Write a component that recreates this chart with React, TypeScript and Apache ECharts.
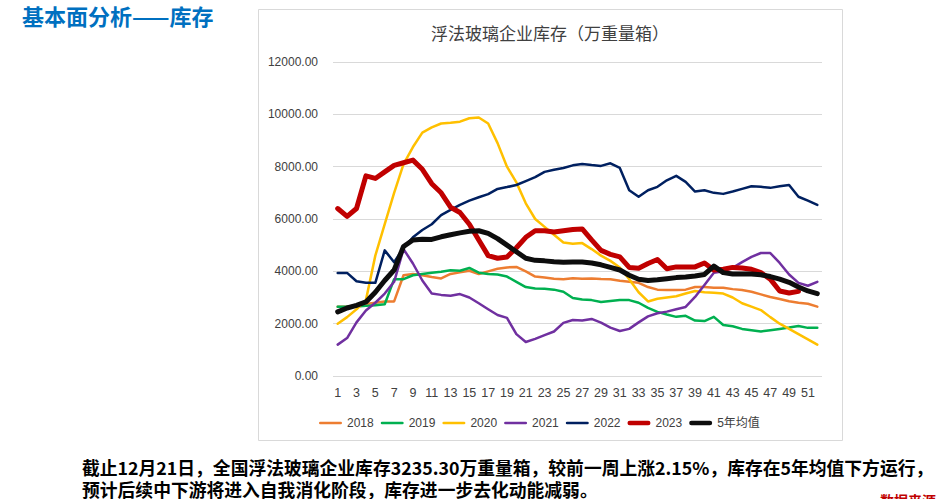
import React, { useEffect, useRef } from "react";
import * as echarts from "echarts";

const weeks: string[] = Array.from({ length: 52 }, (_, i) => String(i + 1));

const yTicks = [0, 2000, 4000, 6000, 8000, 10000, 12000];

const s2018 = [2650, 2650, 2700, 2750, 2800, 2850, 2850, 3850, 3900, 3850, 3780, 3730, 3900, 3960, 4020, 3900, 4000, 4100, 4150, 4170, 4000, 3800, 3760, 3720, 3700, 3740, 3720, 3730, 3710, 3700, 3640, 3600, 3560, 3400, 3300, 3290, 3290, 3300, 3400, 3400, 3370, 3370, 3320, 3290, 3220, 3120, 3020, 2940, 2860, 2800, 2760, 2650];
const s2019 = [2650, 2650, 2660, 2680, 2700, 2740, 3700, 3700, 3850, 3900, 3950, 3980, 4040, 4020, 4130, 3950, 3900, 3880, 3800, 3600, 3400, 3340, 3330, 3300, 3220, 2980, 2920, 2900, 2830, 2870, 2900, 2900, 2800, 2600, 2450, 2350, 2260, 2300, 2120, 2100, 2260, 1950, 1900, 1800, 1750, 1700, 1750, 1800, 1850, 1910, 1840, 1840];
const s2020 = [2000, 2250, 2550, 2900, 4600, 5800, 7000, 8100, 8750, 9300, 9500, 9650, 9680, 9720, 9850, 9880, 9650, 8900, 8000, 7400, 6600, 6000, 5700, 5400, 5100, 5050, 5080, 4850, 4600, 4400, 4150, 3700, 3200, 2850, 2950, 3000, 3050, 3150, 3250, 3200, 3180, 3150, 3000, 2780, 2650, 2520, 2250, 2000, 1800, 1600, 1400, 1200];
const s2021 = [1200, 1450, 2050, 2500, 2800, 3150, 3600, 4850, 4300, 3650, 3150, 3100, 3070, 3130, 3000, 2780, 2550, 2330, 2220, 1600, 1300, 1420, 1560, 1700, 2030, 2140, 2120, 2180, 2040, 1850, 1720, 1800, 2050, 2280, 2400, 2460, 2550, 2640, 3020, 3480, 3950, 4000, 4130, 4350, 4550, 4700, 4700, 4320, 3880, 3560, 3450, 3600];
const s2022 = [3940, 3940, 3620, 3560, 3560, 4800, 4350, 4900, 5300, 5580, 5800, 6150, 6350, 6540, 6700, 6830, 6950, 7150, 7220, 7300, 7450, 7600, 7800, 7880, 7950, 8050, 8100, 8060, 8030, 8130, 7950, 7100, 6850, 7100, 7230, 7480, 7650, 7420, 7050, 7100, 7000, 6960, 7050, 7150, 7250, 7230, 7190, 7250, 7300, 6850, 6700, 6540];
const s2023 = [6400, 6100, 6400, 7650, 7550, 7800, 8050, 8150, 8250, 7900, 7350, 7000, 6450, 6250, 5800, 5200, 4600, 4500, 4550, 4900, 5300, 5550, 5550, 5500, 5550, 5600, 5620, 5200, 4800, 4650, 4550, 4150, 4120, 4300, 4450, 4100, 4170, 4170, 4170, 4320, 4050, 4080, 4150, 4130, 4080, 3950, 3700, 3250, 3170, 3235.3];
const sAvg = [2450, 2600, 2700, 2830, 3200, 3650, 4050, 4950, 5200, 5230, 5220, 5320, 5400, 5470, 5530, 5550, 5450, 5250, 5000, 4750, 4500, 4420, 4400, 4370, 4350, 4360, 4360, 4320, 4250, 4150, 4050, 3850, 3700, 3650, 3680, 3720, 3760, 3780, 3820, 3880, 4200, 3950, 3900, 3900, 3900, 3870, 3800, 3700, 3580, 3400, 3250, 3150];

const seriesNames = ["2018", "2019", "2020", "2021", "2022", "2023", "5年均值"];
const seriesData = [s2018, s2019, s2020, s2021, s2022, s2023, sAvg];
const seriesColors = ["#ED7D31", "#00B050", "#FFC000", "#7030A0", "#002060", "#C00000", "#0D0D0D"];
const seriesWidths = [2.5, 2.5, 2.5, 2.5, 2.5, 5, 5];

const pageTitle = "基本面分析——库存";
const chartTitle = "浮法玻璃企业库存（万重量箱）";
const noteLine1 = "截止12月21日，全国浮法玻璃企业库存3235.30万重量箱，较前一周上涨2.15%，库存在5年均值下方运行，";
const noteLine2 = "预计后续中下游将进入自我消化阶段，库存进一步去化动能减弱。";
const sourceText = "数据来源";

const thinIcon = "path://M0,0L0.01,0Z M1,3.5H24A1.5,1.5,0,0,1,24,6.5H1A1.5,1.5,0,0,1,1,3.5Z M0,10L0.01,10Z";
const thickIcon = "path://M0,0L0.01,0Z M2,2.5H23A2.5,2.5,0,0,1,23,7.5H2A2.5,2.5,0,0,1,2,2.5Z M0,10L0.01,10Z";

export default function App() {
  const ref = useRef<HTMLDivElement>(null);
  useEffect(() => {
    if (!ref.current) return;
    const chart = echarts.init(ref.current, null, { renderer: "svg" });
    const cjk = "'Noto Sans CJK SC', 'Liberation Sans', sans-serif";
    const latin = "'Liberation Sans', 'Noto Sans CJK SC', sans-serif";
    chart.setOption({
      animation: false,
      backgroundColor: "#ffffff",
      graphic: [
        {
          type: "rect",
          z: -10,
          shape: { x: 258.5, y: 9.5, width: 584, height: 431 },
          style: { fill: "#ffffff", stroke: "#d9d9d9", lineWidth: 1 },
        },
        {
          type: "text",
          left: 22,
          top: 3,
          style: { text: pageTitle, fill: "#0070C0", font: `bold 22px ${cjk}`, lineHeight: 24 },
        },
        {
          type: "text",
          left: 82,
          top: 456,
          style: { text: noteLine1, fill: "#000000", font: `bold 17.8px ${cjk}`, lineHeight: 21 },
        },
        {
          type: "text",
          left: 82,
          top: 478,
          style: { text: noteLine2, fill: "#000000", font: `bold 17.8px ${cjk}`, lineHeight: 21 },
        },
        {
          type: "text",
          left: 880,
          top: 493,
          style: { text: sourceText, fill: "#C00000", font: `bold 14px ${cjk}` },
        },
      ],
      title: {
        text: chartTitle,
        left: 545,
        top: 19,
        textAlign: "center",
        textStyle: { fontFamily: cjk, fontSize: 17, fontWeight: "normal", color: "#404040" },
      },
      legend: {
        top: 412,
        left: 314,
        itemWidth: 23,
        itemHeight: 10,
        itemGap: 7,
        textStyle: { fontFamily: latin, fontSize: 12, color: "#404040" },
        data: seriesNames.map((name, i) => ({
          name,
          icon: seriesWidths[i] > 3 ? thickIcon : thinIcon,
          itemStyle: { color: seriesColors[i], borderWidth: 0 },
        })),
      },
      grid: { left: 333, right: 122, top: 62, bottom: 123 },
      xAxis: {
        type: "category",
        data: weeks,
        boundaryGap: true,
        axisLine: { show: false },
        axisTick: { show: false },
        axisLabel: { interval: 1, margin: 11, fontFamily: latin, fontSize: 12.5, color: "#404040" },
      },
      yAxis: {
        type: "value",
        min: 0,
        max: 12000,
        interval: 2000,
        axisLine: { show: false },
        axisTick: { show: false },
        splitLine: { lineStyle: { color: "#d9d9d9", width: 1 } },
        axisLabel: {
          margin: 15,
          fontFamily: latin,
          fontSize: 12,
          color: "#404040",
          formatter: (v: number) => (yTicks.includes(v) ? v.toFixed(2) : ""),
        },
      },
      series: seriesNames.map((name, i) => ({
        name,
        type: "line",
        data: seriesData[i],
        symbol: "none",
        showSymbol: false,
        smooth: false,
        z: 2 + i,
        lineStyle: { color: seriesColors[i], width: seriesWidths[i], cap: "round", join: "round" },
        itemStyle: { color: seriesColors[i] },
      })),
    });
    return () => chart.dispose();
  }, []);
  return (
    <div
      ref={ref}
      style={{ position: "absolute", left: 0, top: 0, width: 944, height: 499 }}
    />
  );
}
